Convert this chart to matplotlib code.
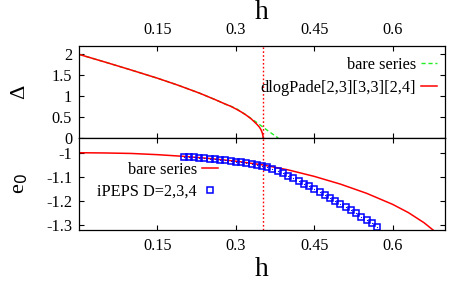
import matplotlib
matplotlib.use('Agg')
import matplotlib.pyplot as plt

plt.rcParams['font.family'] = ['Liberation Serif', 'DejaVu Serif']

# gap, bare series
h_gap_bare = [0, 0.05, 0.1, 0.15, 0.19, 0.23, 0.26, 0.28, 0.30, 0.32, 0.34, 0.36, 0.381]
gap_bare = [2.0, 1.815, 1.625, 1.43, 1.26, 1.075, 0.92, 0.81, 0.71, 0.55, 0.37, 0.185, 0.0]
# gap, dlogPade
h_gap_pade = [0, 0.05, 0.1, 0.15, 0.19, 0.23, 0.26, 0.28, 0.29, 0.30, 0.31, 0.32, 0.33,
              0.34, 0.345, 0.348, 0.35, 0.351, 0.352, 0.3522]
gap_pade = [2.0, 1.815, 1.625, 1.43, 1.26, 1.075, 0.92, 0.81, 0.76, 0.695, 0.625, 0.545,
            0.45, 0.33, 0.26, 0.20, 0.14, 0.10, 0.04, 0.0]
h_crit = 0.3522

# ground state energy, bare series
h_e0_bare = [0, 0.05, 0.1, 0.15, 0.2, 0.25, 0.3, 0.35, 0.4, 0.45, 0.5, 0.55, 0.6, 0.63, 0.66, 0.68]
e0_bare = [-1.0, -1.001, -1.003, -1.008, -1.015, -1.024, -1.035, -1.05, -1.071, -1.098,
           -1.13, -1.168, -1.214, -1.248, -1.29, -1.325]
# iPEPS
h_ipeps = [0.20, 0.21, 0.22, 0.23, 0.24, 0.25, 0.26, 0.27, 0.28, 0.29, 0.30, 0.31, 0.32,
           0.33, 0.34, 0.35, 0.36, 0.37, 0.38, 0.39, 0.40, 0.41, 0.42, 0.43, 0.44, 0.45,
           0.46, 0.47, 0.48, 0.49, 0.50, 0.51, 0.52, 0.53, 0.54, 0.55, 0.56, 0.57]
e0_ipeps = [-1.016, -1.017, -1.019, -1.021, -1.023, -1.025, -1.027, -1.029, -1.032, -1.034,
            -1.037, -1.040, -1.043, -1.047, -1.051, -1.055, -1.060, -1.066, -1.075, -1.085,
            -1.096, -1.106, -1.117, -1.128, -1.139, -1.151, -1.163, -1.175, -1.187, -1.199,
            -1.212, -1.225, -1.238, -1.251, -1.265, -1.279, -1.293, -1.307]

xticks = [0.15, 0.3, 0.45, 0.6]
xticklabels = ['0.15', '0.3', '0.45', '0.6']
gap_ticks = [0, 0.5, 1, 1.5, 2]
gap_ticklabels = ['0', '0.5', '1', '1.5', '2']
e0_ticks = [-1.0, -1.1, -1.2, -1.3]
e0_ticklabels = ['-1', '-1.1', '-1.2', '-1.3']

fs = 11.7

fig = plt.figure(figsize=(4.63, 2.91), dpi=100)
ax1 = fig.add_axes([79/463, 1-138/291, 366/463, 92/291])
ax2 = fig.add_axes([79/463, 1-230/291, 366/463, 92/291])

for ax in (ax1, ax2):
    ax.set_xlim(0, 0.7)
    ax.set_xticks(xticks)
    ax.tick_params(direction='in', top=True, right=True, length=3.5, width=0.8,
                   labelsize=fs)
    ax.tick_params(axis='y', pad=5)
    ax.tick_params(axis='x', pad=6)
    for sp in ax.spines.values():
        sp.set_linewidth(0.9)
    ax.axvline(h_crit, color='red', ls=(0, (1.2, 1.6)), lw=1.0)

# top panel
ax1.plot(h_gap_bare, gap_bare, color='#22ee22', ls=(0, (3, 2)), lw=1.0, label='bare series')
ax1.plot(h_gap_pade, gap_pade, color='red', lw=1.1, label='dlogPade[2,3][3,3][2,4]')
ax1.set_ylim(0, 2.2)
ax1.set_yticks(gap_ticks)
ax1.set_yticklabels(gap_ticklabels)
ax1.xaxis.tick_top()
ax1.tick_params(axis='x', bottom=True, top=True, labelbottom=False, labeltop=True)
ax1.set_xticklabels(xticklabels)
ax1.xaxis.set_label_position('top')
ax1.set_xlabel('h', fontsize=20, labelpad=2)
ax1.set_ylabel('Δ', fontsize=16)
ax1.yaxis.set_label_coords(-0.136, 0.5)
ax1.legend(loc='upper right', markerfirst=False, frameon=False, fontsize=fs,
           handlelength=1.0, handletextpad=0.3, labelspacing=0.4,
           borderpad=0, borderaxespad=0, bbox_to_anchor=(0.978, 0.88))

# bottom panel
ax2.plot(h_e0_bare, e0_bare, color='red', lw=1.1, label='bare series')
ax2.plot(h_ipeps, e0_ipeps, ls='none', marker='s', ms=4.6, mfc='none', mec='blue',
         mew=1.1, label='iPEPS D=2,3,4')
ax2.plot(h_ipeps, e0_ipeps, ls='none', marker='s', ms=0.8, mfc='blue', mec='blue', mew=0)
ax2.set_ylim(-1.32, -0.939)
ax2.set_yticks(e0_ticks)
ax2.set_yticklabels(e0_ticklabels)
ax2.set_xticklabels(xticklabels)
ax2.set_xlabel('h', fontsize=20, labelpad=2)
ax2.set_ylabel('e$_0$', fontsize=16)
ax2.yaxis.set_label_coords(-0.134, 0.5)
ax2.legend(loc='upper right', markerfirst=False, frameon=False, fontsize=fs,
           handlelength=1.0, handletextpad=0.3, labelspacing=0.35,
           borderpad=0, borderaxespad=0, bbox_to_anchor=(0.38, 0.74))

fig.savefig('out.png', dpi=100)
